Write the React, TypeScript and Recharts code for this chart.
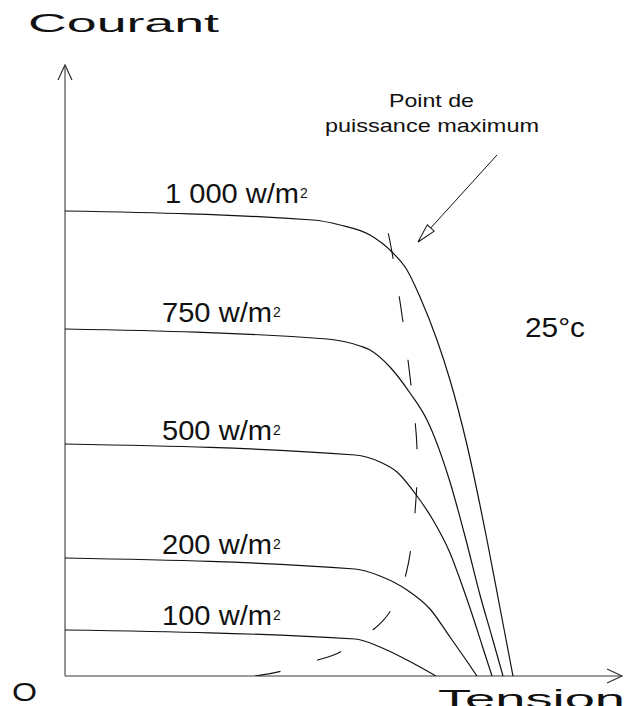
import React from "react";
import { LineChart, Line, XAxis, YAxis, ReferenceLine } from "recharts";

// I-V curves of a PV module (tension en V, courant en A)
const v1000 = [0, 24.8, 27.5, 30.5, 32.7, 34.2, 35.5, 37.2, 38.5, 40.2, 42.2, 43.5, 44.8];
const i1000 = [4.65, 4.56, 4.51, 4.41, 4.24, 4.06, 3.79, 3.36, 2.96, 2.31, 1.36, 0.68, 0];

const v750 = [0, 26.2, 29.5, 30.5, 32.5, 34.5, 36.2, 38.5, 40.1, 41.5, 42.7, 43.8];
const i750 = [3.47, 3.37, 3.3, 3.26, 3.09, 2.83, 2.56, 1.94, 1.36, 0.81, 0.39, 0];

const v500 = [0, 29.0, 31.5, 33.2, 35.2, 36.8, 38.5, 39.7, 40.7, 41.7, 42.7];
const i500 = [2.32, 2.21, 2.14, 2.04, 1.8, 1.56, 1.23, 0.91, 0.62, 0.31, 0];

const v200 = [0, 29.0, 31.5, 34.2, 36.5, 38.5, 39.9, 41.2];
const i200 = [1.18, 1.07, 1.0, 0.86, 0.67, 0.39, 0.19, 0];

const v100 = [0, 29.0, 31.5, 34.2, 37.1];
const i100 = [0.46, 0.37, 0.29, 0.16, 0];

// maximum power point locus (dashed)
const vMpp = [19.0, 21.7, 25.3, 27.7, 30.9, 32.6, 34.1, 35.0, 35.2, 34.6, 33.8, 32.8, 32.3];
const iMpp = [0, 0.05, 0.16, 0.25, 0.47, 0.66, 1.02, 1.64, 2.28, 2.91, 3.54, 4.18, 4.44];

// annotation arrow, from label towards the 1000 w/m² knee
const arrowFrom = { x: 43.2, y: 5.21 };
const arrowTo = { x: 35.3, y: 4.34 };

const X_MAX = 55.7;
const Y_MAX = 6.11;

function toPoints(v: number[], i: number[]) {
  return v.map((x, k) => ({ v: x, i: i[k] }));
}

const curves = [
  { name: "1000", data: toPoints(v1000, i1000) },
  { name: "750", data: toPoints(v750, i750) },
  { name: "500", data: toPoints(v500, i500) },
  { name: "200", data: toPoints(v200, i200) },
  { name: "100", data: toPoints(v100, i100) },
];

const irrLabels = [
  { text: "1 000 w/m", x: 165, y: 203, len: 134 },
  { text: "750 w/m", x: 162, y: 322, len: 110 },
  { text: "500 w/m", x: 162, y: 440, len: 110 },
  { text: "200 w/m", x: 162, y: 554, len: 110 },
  { text: "100 w/m", x: 162, y: 625, len: 110 },
];

const FONT = "'Liberation Sans', Arial, sans-serif";

export default function App() {
  return (
    <div
      style={{
        position: "absolute",
        left: 0,
        top: 0,
        width: 626,
        height: 706,
        background: "#fff",
        overflow: "hidden",
      }}
    >
      <LineChart
        width={626}
        height={706}
        margin={{ top: 65, right: 4, bottom: 30, left: 65 }}
      >
        <defs>
          <marker
            id="chev"
            markerUnits="userSpaceOnUse"
            markerWidth={18}
            markerHeight={16}
            refX={16}
            refY={8}
            orient="auto"
            overflow="visible"
          >
            <path d="M1,1 L16,8 L1,15" fill="none" stroke="#333" strokeWidth={1.2} />
          </marker>
          <marker
            id="openTri"
            markerUnits="userSpaceOnUse"
            markerWidth={22}
            markerHeight={12}
            refX={19}
            refY={6}
            orient="auto"
            overflow="visible"
          >
            <path d="M0,1.3 L19,6 L0,10.7 Z" fill="#fff" stroke="#111" strokeWidth={1} />
          </marker>
        </defs>
        <XAxis type="number" dataKey="v" domain={[0, X_MAX]} allowDataOverflow hide />
        <YAxis type="number" domain={[0, Y_MAX]} allowDataOverflow hide />

        {/* axes with open arrow heads */}
        <ReferenceLine
          segment={[{ x: 0, y: 0 }, { x: X_MAX, y: 0 }]}
          stroke="#7a7a7a"
          strokeWidth={1.6}
          ifOverflow="visible"
          markerEnd="url(#chev)"
        />
        <ReferenceLine
          segment={[{ x: 0, y: 0 }, { x: 0, y: Y_MAX }]}
          stroke="#7a7a7a"
          strokeWidth={1.6}
          ifOverflow="visible"
          markerEnd="url(#chev)"
        />

        {curves.map((c) => (
          <Line
            key={c.name}
            data={c.data}
            dataKey="i"
            type="monotone"
            stroke="#111"
            strokeWidth={1.2}
            dot={false}
            isAnimationActive={false}
          />
        ))}
        <Line
          data={toPoints(vMpp, iMpp)}
          dataKey="i"
          type="natural"
          stroke="#111"
          strokeWidth={1.1}
          strokeDasharray="26 38"
          dot={false}
          isAnimationActive={false}
        />
        <ReferenceLine
          segment={[arrowFrom, arrowTo]}
          stroke="#111"
          strokeWidth={1}
          ifOverflow="visible"
          markerEnd="url(#openTri)"
        />
      </LineChart>

      <svg
        width={626}
        height={706}
        style={{ position: "absolute", left: 0, top: 0, pointerEvents: "none" }}
        fontFamily={FONT}
        fill="#111"
      >
        <text x={28} y={32} fontSize={26} textLength={191} lengthAdjust="spacingAndGlyphs">
          Courant
        </text>
        <text x={438} y={708} fontSize={26} textLength={187} lengthAdjust="spacingAndGlyphs">
          Tension
        </text>
        <text x={12} y={701} fontSize={25} textLength={25} lengthAdjust="spacingAndGlyphs">
          O
        </text>

        <text x={389} y={107} fontSize={19} textLength={85} lengthAdjust="spacingAndGlyphs">
          Point de
        </text>
        <text x={325} y={132} fontSize={19} textLength={214} lengthAdjust="spacingAndGlyphs">
          puissance maximum
        </text>

        {irrLabels.map((l) => (
          <g key={l.text}>
            <text x={l.x} y={l.y} fontSize={27} textLength={l.len} lengthAdjust="spacingAndGlyphs">
              {l.text}
            </text>
            <text x={l.x + l.len + 1} y={l.y - 5} fontSize={14}>
              2
            </text>
          </g>
        ))}

        <text x={525} y={337} fontSize={27} textLength={60} lengthAdjust="spacingAndGlyphs">
          25°c
        </text>
      </svg>
    </div>
  );
}
